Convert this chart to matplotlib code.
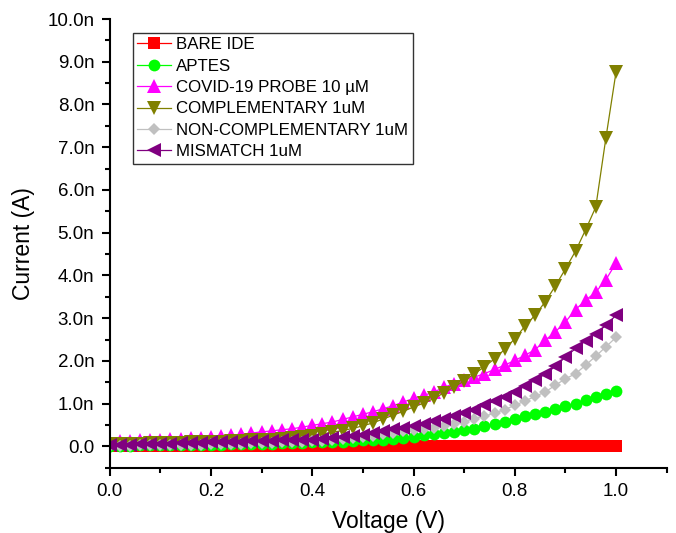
import numpy as np
import matplotlib
matplotlib.use("Agg")
import matplotlib.pyplot as plt
from matplotlib.ticker import MultipleLocator, FuncFormatter

plt.rcParams['font.family'] = ['Liberation Sans', 'DejaVu Sans']

voltage = [round(0.02 * i, 2) for i in range(51)]

bare_ide = [0.00, 0.00, 0.00, 0.00, 0.00, 0.00, 0.00, 0.00, 0.00, 0.00,
            0.00, 0.00, 0.00, 0.00, 0.00, 0.00, 0.00, 0.00, 0.00, 0.00,
            0.00, 0.00, 0.00, 0.00, 0.00, 0.00, 0.00, 0.00, 0.00, 0.00,
            0.00, 0.00, 0.00, 0.00, 0.00, 0.00, 0.00, 0.00, 0.00, 0.00,
            0.00, 0.00, 0.00, 0.00, 0.00, 0.00, 0.00, 0.00, 0.00, 0.00, 0.00]

aptes = [0.01, 0.01, 0.01, 0.02, 0.02, 0.02, 0.03, 0.03, 0.03, 0.04,
         0.04, 0.04, 0.05, 0.05, 0.05, 0.06, 0.06, 0.07, 0.07, 0.08,
         0.09, 0.10, 0.11, 0.11, 0.12, 0.14, 0.15, 0.16, 0.18, 0.20,
         0.23, 0.26, 0.29, 0.32, 0.34, 0.38, 0.41, 0.47, 0.52, 0.57,
         0.65, 0.70, 0.75, 0.80, 0.88, 0.94, 1.00, 1.09, 1.15, 1.22, 1.30]

probe = [0.10, 0.12, 0.13, 0.14, 0.15, 0.16, 0.17, 0.18, 0.19, 0.20,
         0.22, 0.24, 0.26, 0.28, 0.31, 0.34, 0.36, 0.39, 0.41, 0.45,
         0.49, 0.53, 0.57, 0.63, 0.69, 0.75, 0.81, 0.88, 0.95, 1.04,
         1.12, 1.19, 1.27, 1.38, 1.47, 1.55, 1.62, 1.70, 1.80, 1.90,
         2.01, 2.13, 2.26, 2.48, 2.68, 2.91, 3.20, 3.42, 3.61, 3.90, 4.29]

complementary = [0.05, 0.05, 0.06, 0.06, 0.07, 0.07, 0.08, 0.08, 0.09, 0.10,
                 0.10, 0.11, 0.12, 0.13, 0.14, 0.15, 0.16, 0.18, 0.20, 0.22,
                 0.25, 0.29, 0.33, 0.37, 0.42, 0.48, 0.55, 0.64, 0.73, 0.82,
                 0.92, 1.01, 1.12, 1.25, 1.39, 1.53, 1.70, 1.86, 2.05, 2.27,
                 2.52, 2.81, 3.07, 3.38, 3.75, 4.15, 4.57, 5.07, 5.60, 7.22, 8.76]

non_complementary = [0.00, 0.01, 0.01, 0.02, 0.02, 0.03, 0.03, 0.03, 0.04, 0.04,
                     0.05, 0.05, 0.06, 0.06, 0.07, 0.07, 0.08, 0.09, 0.10, 0.11,
                     0.12, 0.13, 0.15, 0.17, 0.19, 0.22, 0.25, 0.28, 0.31, 0.35,
                     0.38, 0.41, 0.44, 0.48, 0.52, 0.57, 0.65, 0.70, 0.78, 0.86,
                     0.96, 1.06, 1.17, 1.27, 1.43, 1.58, 1.70, 1.90, 2.11, 2.33, 2.55]

mismatch = [0.03, 0.04, 0.04, 0.05, 0.05, 0.06, 0.06, 0.07, 0.08, 0.08,
            0.09, 0.10, 0.10, 0.11, 0.12, 0.12, 0.13, 0.14, 0.14, 0.15,
            0.16, 0.17, 0.19, 0.21, 0.24, 0.27, 0.31, 0.35, 0.40, 0.44,
            0.48, 0.53, 0.59, 0.65, 0.71, 0.79, 0.86, 0.96, 1.06, 1.15,
            1.27, 1.41, 1.55, 1.69, 1.87, 2.09, 2.29, 2.47, 2.64, 2.83, 3.07]

labels = ["BARE IDE", "APTES", "COVID-19 PROBE 10 \u00b5M", "COMPLEMENTARY 1uM",
          "NON-COMPLEMENTARY 1uM", "MISMATCH 1uM"]
series = [bare_ide, aptes, probe, complementary, non_complementary, mismatch]
colors = ["#FF0000", "#00FF00", "#FF00FF", "#808000", "#C0C0C0", "#800080"]
markers = ["s", "o", "^", "v", "D", "<"]
msizes = [8.0, 8.5, 10.0, 10.0, 6.5, 10.0]

fig = plt.figure(figsize=(6.76, 5.33), dpi=100)
ax = fig.add_axes([0.1623, 0.1225, 0.8239, 0.8418])

for y, lab, c, m, ms in zip(series, labels, colors, markers, msizes):
    ax.plot(voltage, y, color=c, lw=0.9, marker=m, markersize=ms,
            markeredgewidth=0, label=lab)

ax.set_xlim(0, 1.1)
ax.set_ylim(-0.5, 10)
ax.xaxis.set_major_locator(MultipleLocator(0.2))
ax.xaxis.set_minor_locator(MultipleLocator(0.1))
ax.yaxis.set_major_locator(MultipleLocator(1.0))
ax.yaxis.set_minor_locator(MultipleLocator(0.5))
ax.xaxis.set_major_formatter(FuncFormatter(lambda v, p: f"{v:.1f}"))
ax.yaxis.set_major_formatter(FuncFormatter(lambda v, p: "0.0" if abs(v) < 1e-9 else f"{v:.1f}n"))

for s in ["top", "right"]:
    ax.spines[s].set_visible(False)
for s in ["left", "bottom"]:
    ax.spines[s].set_linewidth(1.5)

ax.tick_params(which="major", direction="out", length=6, width=1.5, labelsize=13.5, pad=5)
ax.tick_params(which="minor", direction="out", length=3.5, width=1.5)

ax.set_xlabel("Voltage (V)", fontsize=16.5, labelpad=7)
ax.set_ylabel("Current (A)", fontsize=16.5, labelpad=9)

leg = ax.legend(loc="upper left", bbox_to_anchor=(0.042, 0.969), borderaxespad=0,
                fontsize=12.2, frameon=True, fancybox=False, handlelength=2.0,
                labelspacing=0.38, handletextpad=0.3, borderpad=0.25)
leg.get_frame().set_edgecolor("black")
leg.get_frame().set_linewidth(1.0)

fig.savefig("out.png", dpi=100)
